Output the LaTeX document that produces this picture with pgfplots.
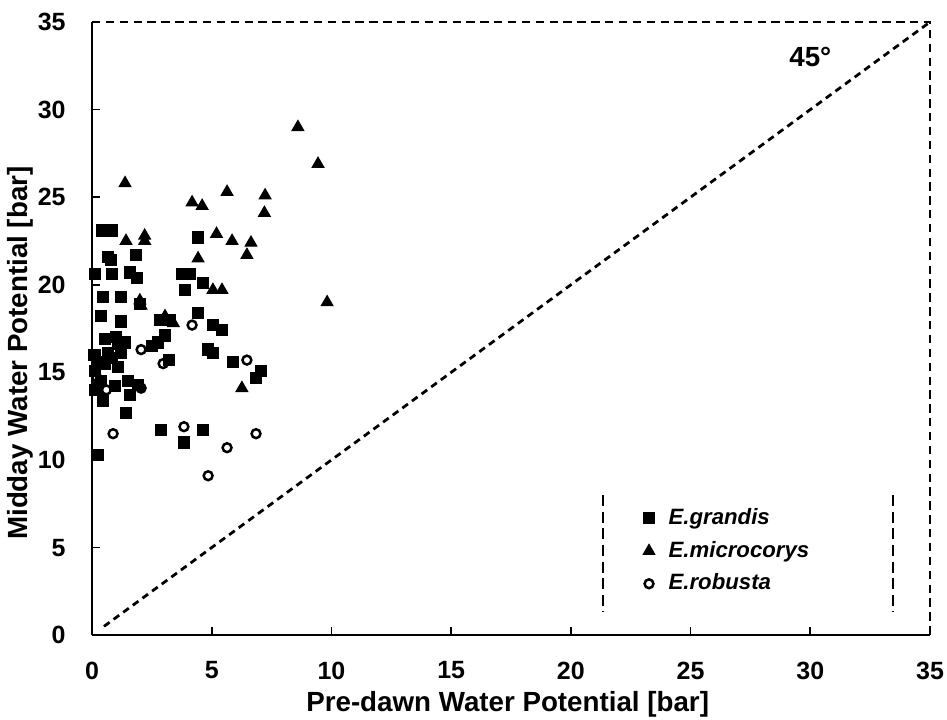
\documentclass[border=0pt]{standalone}
\usepackage{fontspec}
\setmainfont{Liberation Sans}
\usepackage{pgfplots}
\pgfplotsset{compat=1.18}
\usepackage{pgfplotstable}

% E.grandis
\pgfplotstableread{
x y
0.42 23.1
0.84 23.1
4.43 22.7
0.67 21.6
0.80 21.4
1.84 21.7
0.12 20.6
0.84 20.6
1.60 20.7
1.88 20.4
3.76 20.6
4.10 20.6
3.90 19.7
4.64 20.1
0.46 19.3
1.20 19.3
0.38 18.2
1.20 17.9
2.00 18.9
2.85 18.0
3.26 18.0
3.05 17.1
2.75 16.7
4.43 18.4
5.05 17.7
5.43 17.4
0.55 16.9
1.00 17.0
1.38 16.7
0.67 16.1
1.20 16.1
0.55 15.5
1.10 15.3
0.12 15.1
0.38 14.5
0.96 14.2
2.50 16.5
3.20 15.7
4.85 16.3
5.05 16.1
5.90 15.6
7.05 15.1
6.85 14.7
0.20 15.6
0.15 14.0
1.50 14.5
1.92 14.3
1.60 13.7
0.46 13.4
1.42 12.7
2.88 11.7
4.64 11.7
3.84 11.0
0.25 10.3
0.10 16.0
1.10 16.6
0.85 15.8
}\grandis

% E.microcorys
\pgfplotstableread{
x y
1.38 25.8
4.18 24.7
4.60 24.5
1.42 22.5
2.20 22.5
2.20 22.8
4.43 21.5
2.00 19.1
2.05 18.8
8.60 29.0
9.44 26.9
5.64 25.3
7.23 25.1
7.20 24.1
5.20 22.9
5.85 22.5
6.64 22.4
6.47 21.7
5.05 19.7
5.43 19.7
9.82 19.0
6.26 14.1
3.05 18.2
3.40 17.8
0.20 14.4
}\microcorys

% E.robusta
\pgfplotstableread{
x y
4.18 17.7
2.05 16.3
2.97 15.5
2.05 14.1
0.60 14.0
0.20 14.7
0.88 11.5
3.84 11.9
4.85 9.1
6.47 15.7
6.85 11.5
5.64 10.7
}\robusta

\begin{document}
\begin{tikzpicture}
\begin{axis}[
  scale only axis, width=10.62cm, height=7.77cm,
  xmin=0, xmax=35, ymin=0, ymax=35,
  xtick={0,5,...,35}, ytick={0,5,...,35},
  axis x line*=bottom, axis y line*=left,
  axis line style={line width=0.9pt, -},
  tick align=inside, major tick length=3pt,
  tick style={line width=0.6pt, black},
  /pgf/number format/assume math mode=true,
  tick label style={font=\fontsize{9}{11}\selectfont\bfseries},
  xticklabel style={yshift=-6pt},
  yticklabel style={xshift=-6pt},
  label style={font=\fontsize{10}{12}\selectfont\bfseries},
  xlabel={Pre-dawn Water Potential [bar]},
  ylabel={Midday Water Potential [bar]},
  xlabel style={at={(axis description cs:0.496,-0.113)}, anchor=center},
  ylabel style={at={(axis description cs:-0.086,0.46)}, anchor=center},
  clip=false,
  legend style={draw=none, fill=none, at={(axis cs:23.0,4.8)}, anchor=west,
    font=\fontsize{8}{9.5}\selectfont\bfseries\itshape, row sep=0.5pt,
    column sep=3pt, inner sep=0pt},
  legend cell align=left,
  legend image code/.code={\draw[#1] (0cm,0cm) plot coordinates {(0cm,0cm)};},
]
\addplot[only marks, mark=square*, mark size=2pt, black] table {\grandis};
\addlegendentry{E.grandis}
\addplot[only marks, mark=triangle*, mark size=2.4pt, black] table {\microcorys};
\addlegendentry{E.microcorys}
\addplot[only marks, mark=o, mark size=1.6pt, line width=0.9pt, black] table {\robusta};
\addlegendentry{E.robusta}
\addplot[black, line width=1pt, dash pattern=on 2.5pt off 1.8pt, forget plot]
  coordinates {(0.5,0.5) (35,35)};
% dashed top and right frame
\draw[line width=0.8pt, dash pattern=on 3pt off 2pt]
  (rel axis cs:0,1) -- (rel axis cs:1,1) -- (rel axis cs:1,0);
% legend side marks
\draw[line width=0.8pt, dash pattern=on 4pt off 2pt]
  (axis cs:21.35,8.0) -- (axis cs:21.35,1.3);
\draw[line width=0.8pt, dash pattern=on 4pt off 2pt]
  (axis cs:33.45,8.0) -- (axis cs:33.45,1.3);
\node[font=\fontsize{10}{12}\selectfont\bfseries] at (axis cs:30.0,33.0) {45°};
\end{axis}
\pgfresetboundingbox
\path[use as bounding box] (-1.166,-1.064) rectangle (10.835,8.049);
\end{tikzpicture}
\end{document}
